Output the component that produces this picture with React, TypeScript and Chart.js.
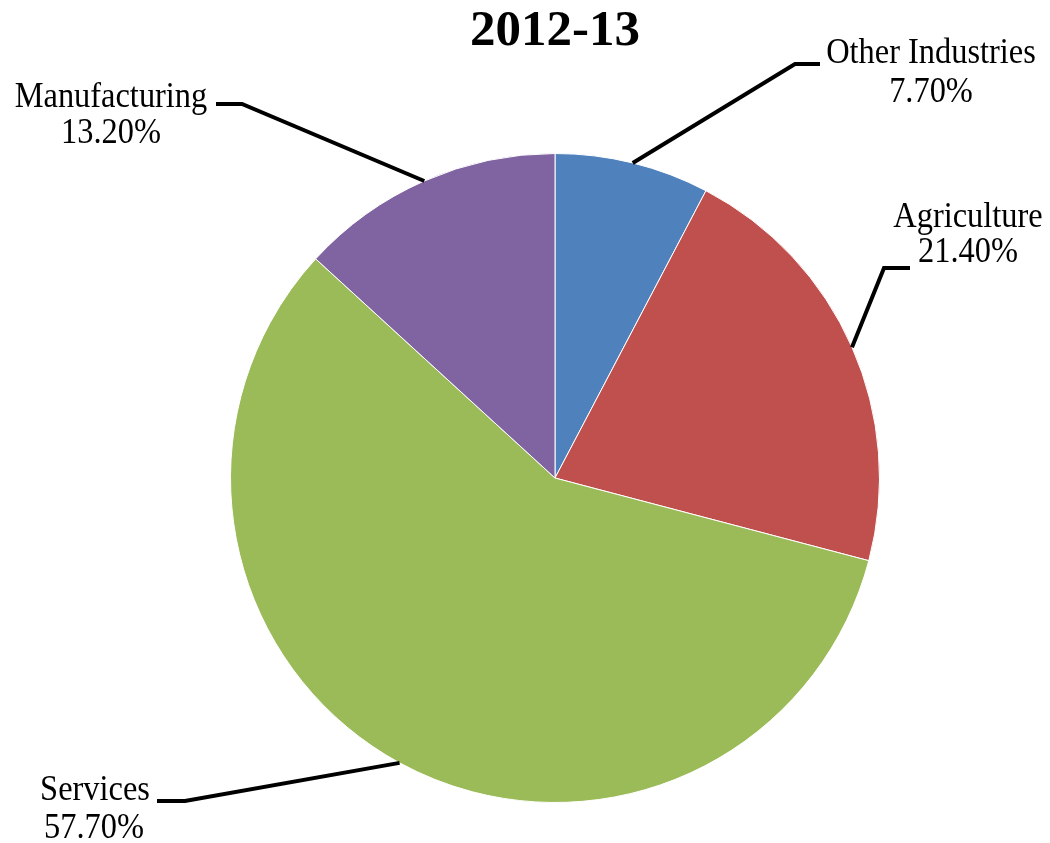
import React, { useEffect, useRef } from "react";
import { Chart, registerables } from "chart.js";

Chart.register(...registerables);

const title = "2012-13";
const categories = ["Other Industries", "Agriculture", "Services", "Manufacturing"];
const shares = [7.7, 21.4, 57.7, 13.2];
const valueLabels = ["7.70%", "21.40%", "57.70%", "13.20%"];
const colors = ["#4F81BD", "#C0504D", "#9BBB59", "#8064A2"];

// label layout: elbow point, end of horizontal stub, text centres (x, baseline)
const labelLayout = [
  { elbow: [795, 64], end: [820, 64], name: [931, 63], value: [931, 102] },
  { elbow: [884, 268], end: [910, 268], name: [968, 227], value: [968, 262] },
  { elbow: [185, 801], end: [157, 801], name: [95, 800], value: [94, 838] },
  { elbow: [242, 104], end: [216, 104], name: [111, 107], value: [111, 143] },
];

const SX = 0.9;

function drawText(ctx: CanvasRenderingContext2D, text: string, x: number, y: number) {
  ctx.save();
  ctx.translate(x, y);
  ctx.scale(SX, 1);
  ctx.fillText(text, 0, 0);
  ctx.restore();
}

const labelPlugin = {
  id: "leaderLabels",
  afterDraw(chart: any) {
    const ctx = chart.ctx;
    const meta = chart.getDatasetMeta(0);
    ctx.save();
    ctx.fillStyle = "#000";
    ctx.textAlign = "center";
    ctx.textBaseline = "alphabetic";
    ctx.font = "bold 51px 'Liberation Serif'";
    ctx.fillText(title, 555, 45);
    meta.data.forEach((arc: any, i: number) => {
      const p = arc.getProps(["x", "y", "startAngle", "endAngle", "outerRadius"], true);
      const mid = (p.startAngle + p.endAngle) / 2;
      const sx = p.x + Math.cos(mid) * p.outerRadius;
      const sy = p.y + Math.sin(mid) * p.outerRadius;
      const L = labelLayout[i];
      ctx.beginPath();
      ctx.strokeStyle = "#000";
      ctx.lineWidth = 4;
      ctx.lineJoin = "miter";
      ctx.moveTo(sx, sy);
      ctx.lineTo(L.elbow[0], L.elbow[1]);
      ctx.lineTo(L.end[0], L.end[1]);
      ctx.stroke();
      ctx.font = "36px 'Liberation Serif'";
      ctx.fillStyle = "#000";
      drawText(ctx, categories[i], L.name[0], L.name[1]);
      drawText(ctx, valueLabels[i], L.value[0], L.value[1]);
    });
    ctx.restore();
  },
};

export default function App() {
  const ref = useRef<HTMLCanvasElement>(null);
  useEffect(() => {
    document.body.style.margin = "0";
    const chart = new Chart(ref.current!, {
      type: "pie",
      data: {
        labels: categories,
        datasets: [
          {
            data: shares,
            backgroundColor: colors,
            borderColor: "#ffffff",
            borderWidth: 1,
          },
        ],
      },
      options: {
        animation: false,
        responsive: false,
        layout: { padding: { left: 230, right: 170, top: 153, bottom: 40 } },
        plugins: {
          legend: { display: false },
          tooltip: { enabled: false },
          title: { display: false },
        },
      },
      plugins: [labelPlugin],
    });
    return () => chart.destroy();
  }, []);
  return (
    <div style={{ width: 1050, height: 843, background: "#fff" }}>
      <canvas ref={ref} width={1050} height={843} style={{ display: "block" }} />
    </div>
  );
}
